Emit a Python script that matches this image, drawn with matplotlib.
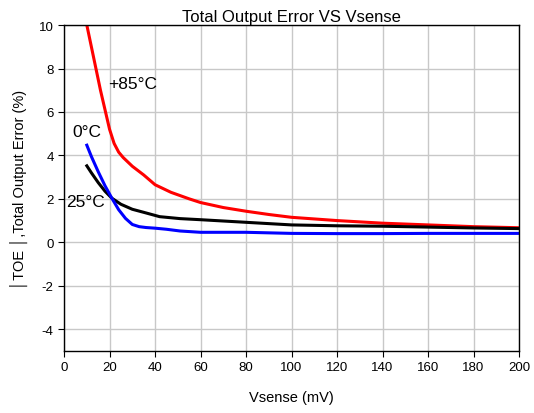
import matplotlib
matplotlib.use("Agg")
import matplotlib.pyplot as plt

plt.rcParams['font.family'] = ['Liberation Sans', 'DejaVu Sans']
plt.rcParams['axes.unicode_minus'] = False

# +85C curve
x_85 = [10, 12, 14, 16, 18, 20, 22, 24, 26, 28, 30, 35, 40, 47, 55, 60, 70, 80, 90, 100, 120, 140, 160, 180, 200]
y_85 = [10.0, 9.0, 8.0, 7.0, 6.1, 5.2, 4.55, 4.15, 3.9, 3.7, 3.5, 3.1, 2.65, 2.3, 2.0, 1.83, 1.6, 1.43, 1.28, 1.15, 1.0, 0.88, 0.8, 0.72, 0.67]

# 0C curve
x_0 = [10, 12, 15, 18, 21, 24, 27, 30, 33, 36, 40, 45, 51, 60, 80, 100, 120, 140, 160, 180, 200]
y_0 = [4.47, 3.95, 3.25, 2.6, 2.03, 1.5, 1.1, 0.82, 0.72, 0.68, 0.65, 0.6, 0.52, 0.46, 0.46, 0.41, 0.4, 0.4, 0.41, 0.41, 0.41]

# 25C curve
x_25 = [10, 12, 15, 18, 21, 25, 30, 35, 42, 51, 60, 80, 100, 120, 140, 160, 180, 200]
y_25 = [3.52, 3.2, 2.75, 2.35, 2.03, 1.75, 1.52, 1.38, 1.18, 1.09, 1.04, 0.92, 0.8, 0.76, 0.74, 0.7, 0.66, 0.63]

fig = plt.figure(figsize=(5.34, 4.14), dpi=100)
ax = fig.add_axes([0.12, 0.15, 0.852, 0.787])

ax.plot(x_85, y_85, color='#ff0000', lw=2.2)
ax.plot(x_25, y_25, color='#000000', lw=2.2)
ax.plot(x_0, y_0, color='#0000ff', lw=2.2)

ax.text(19.4, 7.3, '+85\u00b0C', fontsize=12.5, va='center', ha='left')
ax.text(3.5, 5.1, '0\u00b0C', fontsize=12.5, va='center', ha='left')
ax.text(1.0, 1.9, '25\u00b0C', fontsize=12.5, va='center', ha='left')

ax.set_xlim(0, 200)
ax.set_ylim(-5, 10)
ax.set_xticks(range(0, 201, 20))
ax.set_yticks(range(-4, 11, 2))
ax.grid(True, color='#c8c8c8', lw=1)
ax.set_axisbelow(True)
ax.tick_params(labelsize=9.5, direction='out', length=4, colors='black')
for s in ax.spines.values():
    s.set_color('black')
    s.set_linewidth(1)

ax.set_title('Total Output Error VS Vsense', fontsize=12, pad=3)
ax.set_xlabel('Vsense (mV)', fontsize=10.5, labelpad=12)
ax.set_ylabel('\u2502TOE \u2502,Total Output Error (%)', fontsize=10.5, labelpad=8)

fig.savefig('out.png', dpi=100)
